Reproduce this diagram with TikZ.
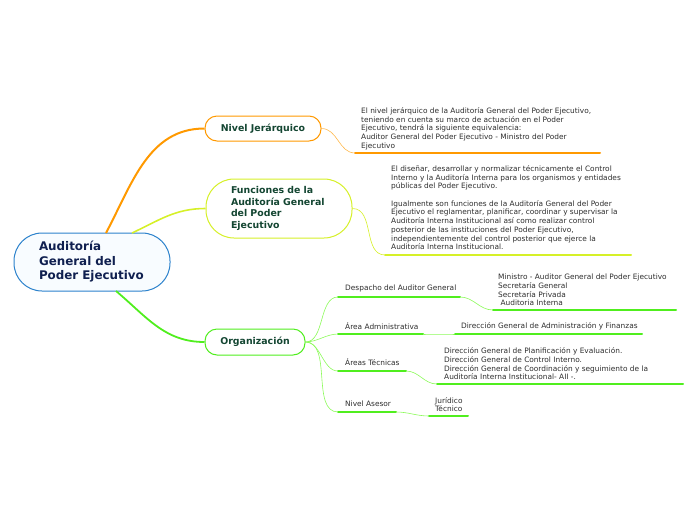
\documentclass[tikz,border=0pt]{standalone}
\usepackage{fontspec}
\setmainfont{DejaVu Sans}
\usetikzlibrary{positioning}
\definecolor{rootblue}{RGB}{44,130,204}
\definecolor{rootfill}{RGB}{248,252,255}
\definecolor{rootink}{RGB}{16,32,80}
\definecolor{topicink}{RGB}{20,70,50}
\definecolor{nivelorange}{RGB}{255,153,0}
\definecolor{funclime}{RGB}{214,240,40}
\definecolor{orggreen}{RGB}{80,238,30}
\definecolor{orglight}{RGB}{140,250,90}
\definecolor{leafgray}{RGB}{45,45,45}

\tikzset{
    rootbox/.style={draw=rootblue, fill=rootfill, line width=1pt,
        rounded corners=28pt, minimum width=156pt, minimum height=58pt,
        text=rootink, align=left, text width=106pt,
        font=\fontsize{11.9}{14.5}\selectfont\bfseries},
    topicbox/.style={line width=1pt, fill=white, text=topicink, align=left,
        font=\fontsize{9.4}{11.5}\selectfont\bfseries},
    leaftext/.style={inner sep=0pt, anchor=south west, text=leafgray,
        align=left, font=\fontsize{7.4}{8.7}\selectfont},
    thickline/.style={line width=2pt, line cap=round},
    thinline/.style={line width=0.6pt}
}

\begin{document}
\begin{tikzpicture}[x=1pt, y=-1pt]
\useasboundingbox (0,0) rectangle (696,520);

% main topics
\node[rootbox] (root) at (92,262) {Auditoría\\General del\\Poder Ejecutivo};

\node[
    topicbox,
    draw=nivelorange,
    rounded corners=12pt,
    minimum width=116pt,
    minimum height=25pt
] (nivel) at (263,128.5) {Nivel Jerárquico};

\node[
    topicbox,
    draw=funclime,
    rounded corners=28pt,
    minimum width=146pt,
    minimum height=59pt,
    text width=96pt
] (funciones) at (279,208.5) {Funciones de la\\Auditoría General\\del Poder\\Ejecutivo};

\node[
    topicbox,
    draw=orggreen,
    rounded corners=12pt,
    minimum width=100pt,
    minimum height=26pt
] (organizacion) at (255,342) {Organización};

% anchors on the root box
\coordinate (rootN1) at (106,233);
\coordinate (rootN2) at (132,233);
\coordinate (rootS) at (116,291);

\draw[nivelorange, line width=2pt] (rootN1) to[out=62,in=180] (nivel.west);
\draw[funclime, line width=1.6pt] (rootN2) to[out=25,in=180] (funciones.west);
\draw[orggreen, line width=1.8pt] (rootS) to[out=-40,in=180] (organizacion.west);

% Nivel Jerarquico
\node[leaftext] (nivelT) at (361,150) {El nivel jerárquico de la Auditoría General del Poder Ejecutivo,\\
teniendo en cuenta su marco de actuación en el Poder\\
Ejecutivo, tendrá la siguiente equivalencia:\\
Auditor General del Poder Ejecutivo - Ministro del Poder\\
Ejecutivo};
\coordinate (nivelL) at (355,153);
\coordinate (nivelR) at (600,153);
\draw[nivelorange!70, thinline] (nivel.east) to[out=0,in=180] (nivelL);
\draw[nivelorange, thickline] (nivelL) -- (nivelR);

% Funciones
\node[leaftext] (funcionesT) at (391,250) {El diseñar, desarrollar y normalizar técnicamente el Control\\
Interno y la Auditoría Interna para los organismos y entidades\\
públicas del Poder Ejecutivo.\\[8.7pt]
Igualmente son funciones de la Auditoría General del Poder\\
Ejecutivo el reglamentar, planificar, coordinar y supervisar la\\
Auditoría Interna Institucional así como realizar control\\
posterior de las instituciones del Poder Ejecutivo,\\
independientemente del control posterior que ejerce la\\
Auditoría Interna Institucional.};
\coordinate (funcionesL) at (385,255);
\coordinate (funcionesR) at (631,255);
\draw[funclime, thinline] (funciones.east) to[out=0,in=180] (funcionesL);
\draw[funclime, thickline] (funcionesL) -- (funcionesR);

% Organizacion: sub topics
\node[leaftext] (despacho) at (345,292) {Despacho del Auditor General};
\coordinate (despachoL) at (338,297);
\coordinate (despachoR) at (460,297);

\node[leaftext] (administrativa) at (345,330) {Área Administrativa};
\coordinate (administrativaL) at (338,334);
\coordinate (administrativaR) at (423,334);

\node[leaftext] (tecnicas) at (345,366) {Áreas Técnicas};
\coordinate (tecnicasL) at (338,371);
\coordinate (tecnicasR) at (406,371);

\node[leaftext] (asesor) at (345,407) {Nivel Asesor};
\coordinate (asesorL) at (338,412);
\coordinate (asesorR) at (396,412);

\foreach \sub in {despacho,administrativa,tecnicas,asesor} {
    \draw[orglight, thinline] (organizacion.east) to[out=0,in=180,looseness=0.9] (\sub L);
    \draw[orggreen, thickline] (\sub L) -- (\sub R);
}

% Organizacion: details
\node[leaftext] (despachoT) at (498,306) {Ministro - Auditor General del Poder Ejecutivo\\
Secretaría General\\
Secretaría Privada\\
\ Auditoria Interna};
\coordinate (despachoTL) at (493,310);
\coordinate (despachoTR) at (676,310);

\node[leaftext] (administrativaT) at (461,330) {Dirección General de Administración y Finanzas};
\coordinate (administrativaTL) at (455,334);
\coordinate (administrativaTR) at (642,334);

\node[leaftext] (tecnicasT) at (444,380) {Dirección General de Planificación y Evaluación.\\
Dirección General de Control Interno.\\
Dirección General de Coordinación y seguimiento de la\\
Auditoría Interna Institucional- AII -.};
\coordinate (tecnicasTL) at (437,384);
\coordinate (tecnicasTR) at (683,384);

\node[leaftext] (asesorT) at (435,412) {Jurídico\\Técnico};
\coordinate (asesorTL) at (429,416);
\coordinate (asesorTR) at (468,416);

\foreach \sub in {despacho,administrativa,tecnicas,asesor} {
    \draw[orglight, thinline] (\sub R) to[out=0,in=180] (\sub TL);
    \draw[orggreen, thickline] (\sub TL) -- (\sub TR);
}
\end{tikzpicture}
\end{document}
